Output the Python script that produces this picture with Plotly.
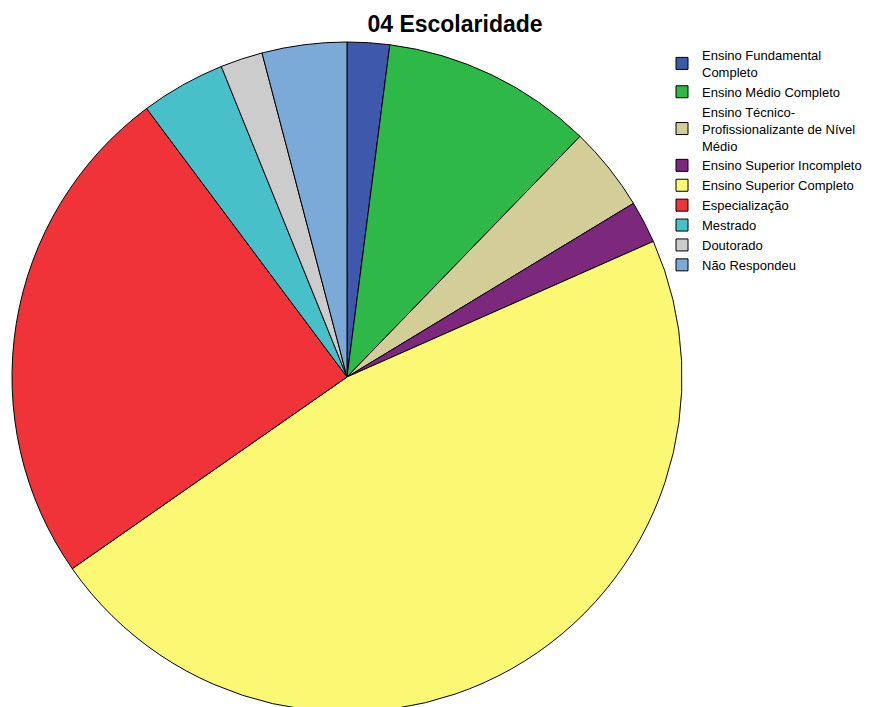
import plotly.graph_objects as go

categorias = [
    "Ensino Fundamental<br>Completo",
    "Ensino Médio Completo",
    "Ensino Técnico-<br>Profissionalizante de Nível<br>Médio",
    "Ensino Superior Incompleto",
    "Ensino Superior Completo",
    "Especialização",
    "Mestrado",
    "Doutorado",
    "Não Respondeu",
]
contagens = [1, 5, 2, 1, 23, 12, 2, 1, 2]
cores = ["#3E58AC", "#2EB848", "#D3CE97", "#7B287D", "#FBF873",
         "#EF3338", "#48C0C9", "#CCCCCC", "#7BAAD8"]

W, H = 893, 707

fig = go.Figure()
fig.add_trace(
    go.Pie(
        labels=categorias,
        values=contagens,
        sort=False,
        direction="clockwise",
        rotation=0,
        textinfo="none",
        hoverinfo="label+value+percent",
        marker=dict(colors=cores, line=dict(color="black", width=1)),
        domain=dict(x=[4 / W, 674 / W], y=[3 / H, 1 - 34 / H]),
    )
)

fig.update_layout(
    width=W,
    height=H,
    margin=dict(l=0, r=0, t=0, b=0),
    paper_bgcolor="white",
    plot_bgcolor="white",
    font=dict(family="Liberation Sans, Arial, sans-serif", size=13, color="black"),
    title=dict(
        text="<b>04 Escolaridade</b>",
        x=447 / W,
        xanchor="center",
        y=1 - 16 / H,
        yanchor="middle",
        font=dict(size=23, color="black"),
    ),
    legend=dict(
        x=654 / W,
        xanchor="left",
        y=1 - 32 / H,
        yanchor="top",
        font=dict(size=13),
        itemwidth=30,
        tracegroupgap=0,
        bgcolor="rgba(0,0,0,0)",
    ),
)

fig.write_html("out.html")
